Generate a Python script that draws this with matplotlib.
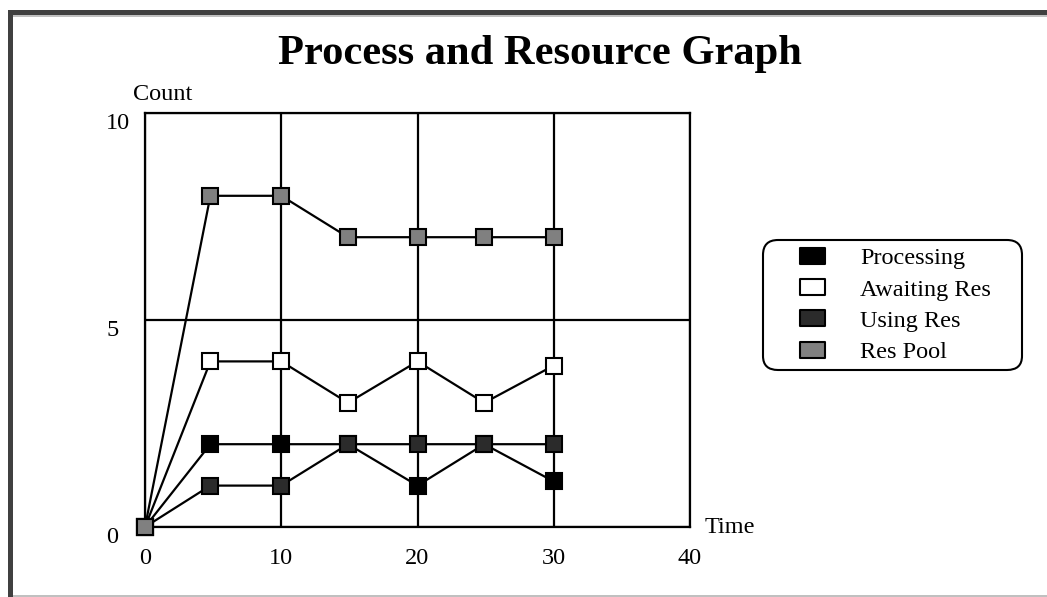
import matplotlib
matplotlib.use('Agg')
import matplotlib.pyplot as plt
from matplotlib.lines import Line2D
from matplotlib.patches import Rectangle
from matplotlib.path import Path

# ---- data ----
time = [0, 4.8, 10, 14.9, 20, 24.9, 30]
processing = [0, 2, 2, 2, 1, 2, 1.1]
awaiting_res = [0, 4, 4, 3, 4, 3, 3.9]
using_res = [0, 1, 1, 2, 2, 2, 2]
res_pool = [0, 8, 8, 7, 7, 7, 7]
series_names = ['Processing', 'Awaiting Res', 'Using Res', 'Res Pool']
x_ticks = [0, 10, 20, 30, 40]
y_ticks = [0, 5, 10]

colors = ['#000000', '#ffffff', '#2b2b2b', '#808080']

plt.rcParams['font.family'] = ['Liberation Serif', 'DejaVu Serif']

W, H = 1047, 597
fig = plt.figure(figsize=(W / 100, H / 100), dpi=100)
fig.patch.set_facecolor('white')

ax = fig.add_axes([145 / W, 1 - 527 / H, (690 - 145) / W, (527 - 113) / H])
ax.set_xlim(0, 40)
ax.set_ylim(0, 10)
ax.set_xticks(x_ticks)
ax.set_yticks(y_ticks)
ax.tick_params(axis='both', length=0, labelsize=17.5, colors='k')
ax.tick_params(axis='x', pad=15)
ax.tick_params(axis='y', pad=28)
for lbl in ax.get_yticklabels():
    lbl.set_verticalalignment('top')
    lbl.set_horizontalalignment('left')
for s in ax.spines.values():
    s.set_linewidth(1.6)
    s.set_color('k')
ax.grid(True, color='k', linewidth=1.6)
ax.set_axisbelow(True)

for vals, c in zip([processing, awaiting_res, using_res, res_pool], colors):
    ax.plot(time, vals, color='k', linewidth=1.6, marker='s', markersize=11.5,
            markerfacecolor=c, markeredgecolor='k', markeredgewidth=1.5,
            clip_on=False, zorder=3)

# titles / axis labels
fig.text(540 / W, 1 - 64 / H, 'Process and Resource Graph', ha='center',
         va='baseline', fontsize=30.6, fontweight='bold')
fig.text(133 / W, 1 - 100 / H, 'Count', ha='left', va='baseline', fontsize=17.5)
fig.text(705 / W, 1 - 533 / H, 'Time', ha='left', va='baseline', fontsize=17.5)

# legend
rect = Path([(-1.6, -1), (1.6, -1), (1.6, 1), (-1.6, 1), (-1.6, -1)],
            [Path.MOVETO, Path.LINETO, Path.LINETO, Path.LINETO, Path.CLOSEPOLY])
handles = [Line2D([], [], linestyle='none', marker=rect, markersize=18,
                  markerfacecolor=c, markeredgecolor='k', markeredgewidth=1.5)
           for c in colors]
leg = fig.legend(handles, series_names, loc='upper left',
                 bbox_to_anchor=(763 / W, 1 - 240 / H, (1022 - 763) / W, 0),
                 bbox_transform=fig.transFigure, mode='expand', borderaxespad=0,
                 borderpad=0.3, labelspacing=0.38, handlelength=3.43,
                 handletextpad=0.26, fontsize=17.5, frameon=True, fancybox=True,
                 framealpha=1, edgecolor='k', numpoints=1)
leg.get_frame().set_linewidth(1.5)
leg.get_frame().set_boxstyle('round', pad=0, rounding_size=0.6)

# window-like border
fig.add_artist(Rectangle((8 / W, 0), 5 / W, (H - 10) / H, transform=fig.transFigure,
                         color='#404040', lw=0))
fig.add_artist(Rectangle((8 / W, 1 - 15 / H), (W - 8) / W, 5 / H,
                         transform=fig.transFigure, color='#404040', lw=0))
fig.add_artist(Rectangle((13 / W, 1 - 16.5 / H), (W - 13) / W, 1.5 / H,
                         transform=fig.transFigure, color='#c0c0c0', lw=0))
fig.add_artist(Rectangle((13 / W, 0), (W - 13) / W, 2 / H,
                         transform=fig.transFigure, color='#c0c0c0', lw=0))

fig.savefig('out.png', dpi=100)
